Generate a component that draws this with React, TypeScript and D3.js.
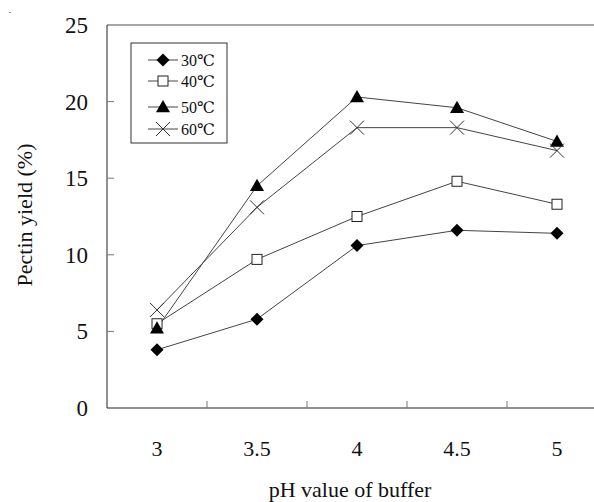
import React from "react";
import * as d3 from "d3";

const categories = ["3", "3.5", "4", "4.5", "5"];
const seriesNames = ["30℃", "40℃", "50℃", "60℃"];
const s30 = [3.8, 5.8, 10.6, 11.6, 11.4];
const s40 = [5.5, 9.7, 12.5, 14.8, 13.3];
const s50 = [5.2, 14.5, 20.3, 19.6, 17.4];
const s60 = [6.4, 13.1, 18.3, 18.3, 16.8];
const yTicks = [0, 5, 10, 15, 20, 25];
const markers = ["diamond", "square", "triangle", "cross"];

const W = 594, H = 502;
const left = 107, top = 25, bottom = 408, right = 607;
const FONT = "Liberation Serif, DejaVu Serif, serif";

function Marker({ type, x, y }: { type: string; x: number; y: number }) {
  if (type === "diamond") {
    const r = 6.5;
    return <path d={`M${x},${y - r}L${x + r},${y}L${x},${y + r}L${x - r},${y}Z`} fill="#000" />;
  }
  if (type === "square") {
    const r = 5;
    return <rect x={x - r} y={y - r} width={2 * r} height={2 * r} fill="#fff" stroke="#222" strokeWidth={1} />;
  }
  if (type === "triangle") {
    const r = 7;
    return <path d={`M${x},${y - r}L${x + r},${y + r * 0.75}L${x - r},${y + r * 0.75}Z`} fill="#000" />;
  }
  const r = 7;
  return (
    <path d={`M${x - r},${y - r}L${x + r},${y + r}M${x - r},${y + r}L${x + r},${y - r}`} stroke="#333" strokeWidth={1} fill="none" />
  );
}

export default function App() {
  const x = d3.scaleBand().domain(categories).range([left, right]);
  const y = d3.scaleLinear().domain([0, 25]).range([bottom, top]);
  const cx = (c: string) => (x(c) as number) + x.bandwidth() / 2;
  const all = [s30, s40, s50, s60];
  const line = d3
    .line<number>()
    .x((_, i) => cx(categories[i]))
    .y((d) => y(d));

  const legendY = [60, 81, 107, 129];
  const txt = { fontFamily: FONT, fill: "#111" } as React.CSSProperties;

  return (
    <svg width={W} height={H} style={{ position: "absolute", left: 0, top: 0, background: "#fff", fontFamily: FONT }}>
      <rect x={0} y={0} width={W} height={H} fill="#fff" />
      <rect x={9} y={12} width={2} height={1} fill="#888" />
      <line x1={left} x2={W} y1={top} y2={top} stroke="#888" strokeWidth={1.5} />
      <line x1={left} x2={left} y1={top} y2={bottom} stroke="#222" strokeWidth={1} />
      <line x1={left} x2={W} y1={bottom} y2={bottom} stroke="#222" strokeWidth={1} />
      {yTicks.map((t) => (
        <g key={t}>
          {t > 0 && t < 25 && <line x1={left} x2={left + 7} y1={y(t)} y2={y(t)} stroke="#777" strokeWidth={1} />}
          <text x={88} y={y(t)} dy="0.35em" textAnchor="end" style={{ ...txt, fontSize: 23 }}>
            {t}
          </text>
        </g>
      ))}
      {categories.map((c, i) => (
        <g key={c}>
          {i > 0 && (
            <line x1={x(c) as number} x2={x(c) as number} y1={bottom} y2={bottom - 7} stroke="#777" strokeWidth={1} />
          )}
          <text x={cx(c)} y={448} dy="0.35em" textAnchor="middle" style={{ ...txt, fontSize: 22 }}>
            {c}
          </text>
        </g>
      ))}
      {all.map((s, k) => (
        <path key={k} d={line(s) as string} fill="none" stroke="#444" strokeWidth={1} />
      ))}
      {all.map((s, k) =>
        s.map((v, i) => <Marker key={`${k}-${i}`} type={markers[k]} x={cx(categories[i])} y={y(v)} />)
      )}
      <text x={350} y={497} textAnchor="middle" style={{ ...txt, fontSize: 22 }}>
        pH value of buffer
      </text>
      <text transform={`translate(32,215) rotate(-90)`} textAnchor="middle" style={{ ...txt, fontSize: 22 }}>
        Pectin yield (%)
      </text>
      <rect x={131} y={43} width={96} height={100} fill="#fff" stroke="#333" strokeWidth={1} />
      {seriesNames.map((n, k) => (
        <g key={n}>
          <line x1={148} x2={178} y1={legendY[k]} y2={legendY[k]} stroke="#444" strokeWidth={1} />
          <Marker type={markers[k]} x={163} y={legendY[k]} />
          <text x={181} y={legendY[k]} dy="0.35em" style={{ ...txt, fontSize: 16 }}>
            {n}
          </text>
        </g>
      ))}
    </svg>
  );
}
